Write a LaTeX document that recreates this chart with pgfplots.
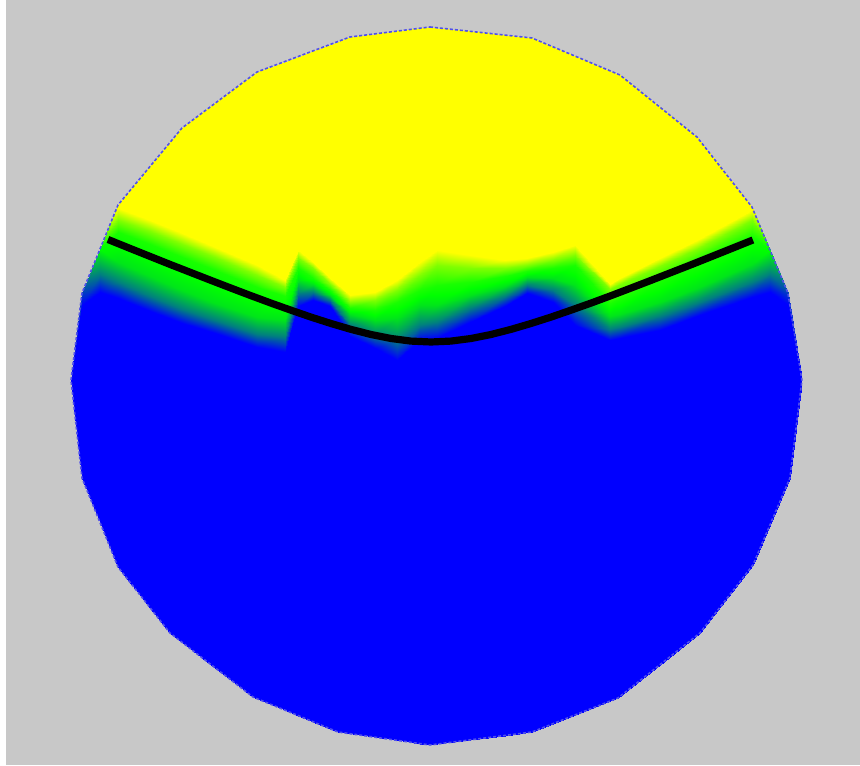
\documentclass[border=0pt]{standalone}
\usepackage{pgfplots}
\pgfplotsset{compat=1.18}
\usepackage{pgfplotstable}
\definecolor{bggray}{RGB}{200,200,200}
\definecolor{rimblue}{RGB}{80,80,235}
\pgfplotstableset{create on use/zz/.style={create col/set={0}}}

% colour field: one scanline (8 points) per column, from bottom edge to top edge
\pgfplotstableread{
x y c
71 380 0
71 380 0
71 380 0
71 380 0
71 380 0
71 380 0
71 380 0
71 380 0
82 478 0
82 305 0
82 293 0.12
82 293 0.12
82 293 0.12
82 293 0.12
82 293 0.12
82 293 0.12
100 522 0
100 292 0
100 274 0.25
100 249 0.5
100 249 0.5
100 249 0.5
100 249 0.5
100 249 0.5
118 567 0
118 298 0
118 282 0.25
118 262 0.45
118 232 0.55
118 220 0.75
118 208 1
118 205 1
150 608 0
150 311 0
150 296 0.25
150 276 0.45
150 244 0.55
150 231 0.75
150 220 1
150 166 1
170 633 0
182 323 0
182 309 0.25
182 290 0.45
182 257 0.55
182 244 0.75
182 233 1
182 128 1
215 668 0
215 333 0
215 320 0.25
215 303 0.45
215 270 0.55
215 257 0.75
215 247 1
215 103 1
253 697 0
257 347 0
257 334 0.25
257 317 0.45
257 287 0.55
257 275 0.75
257 265 1
257 72 1
285 710 0
285 352 0
285 337 0.25
285 320 0.45
285 296 0.55
285 287 0.75
285 280 1
285 62 1
298 716 0
298 306 0
298 293 0.25
298 280 0.45
298 268 0.55
298 258 0.75
298 250 1
298 57 1
313 722 0
313 300 0
313 292 0.25
313 284 0.45
313 278 0.55
313 268 0.75
313 262 1
313 51 1
330 729 0
330 306 0
330 300 0.25
330 295 0.45
330 290 0.55
330 284 0.75
330 278 1
330 45 1
338 732 0
350 336 0
350 325 0.25
350 314 0.45
350 308 0.55
350 302 0.75
350 295 1
350 37 1
375 737 0
375 348 0
375 335 0.25
375 320 0.45
375 310 0.55
375 300 0.75
375 292 1
375 34 1
397 740 0
397 360 0
397 340 0.25
397 318 0.45
397 302 0.55
397 290 0.75
397 280 1
397 31 1
420 744 0
420 340 0
420 325 0.25
420 305 0.45
420 290 0.55
420 275 0.75
420 262 1
420 28 1
437 744 0
437 338 0
437 322 0.25
437 305 0.45
437 285 0.55
437 265 0.75
437 250 1
437 28 1
470 740 0
470 322 0
470 308 0.25
470 295 0.45
470 282 0.55
470 268 0.75
470 255 1
470 31 1
505 736 0
505 306 0
505 296 0.25
505 286 0.45
505 276 0.55
505 268 0.75
505 260 1
505 35 1
532 732 0
527 293 0
527 285 0.25
527 277 0.45
527 271 0.55
527 265 0.75
527 258 1
532 38 1
553 724 0
553 302 0
553 290 0.25
553 278 0.45
553 268 0.55
553 260 0.75
553 252 1
553 47 1
575 715 0
575 325 0
575 305 0.25
575 285 0.45
575 265 0.55
575 255 0.75
575 245 1
575 56 1
610 701 0
610 340 0
610 329 0.25
610 316 0.45
610 303 0.55
610 289 0.75
610 284 1
610 71 1
618 698 0
620 338 0
620 327 0.25
620 314 0.45
620 298 0.55
620 284 0.75
620 278 1
620 75 1
660 665 0
660 330 0
660 316 0.25
660 302 0.45
660 280 0.55
660 266 0.75
660 258 1
660 107 1
700 633 0
697 316 0
697 303 0.25
697 288 0.45
697 262 0.55
697 249 0.75
697 240 1
697 137 1
753 565 0
752 297 0
752 282 0.25
752 264 0.45
752 236 0.55
752 220 0.75
752 210 1
752 207 1
770 525 0
770 292 0
770 274 0.25
770 250 0.5
770 250 0.5
770 250 0.5
770 250 0.5
770 250 0.5
790 478 0
788 305 0
788 293 0.12
788 293 0.12
788 293 0.12
788 293 0.12
788 293 0.12
788 293 0.12
802 380 0
802 380 0
802 380 0
802 380 0
802 380 0
802 380 0
802 380 0
802 380 0
}\fieldtable

% outline of the disk (polygon vertices)
\pgfplotstableread{
x y
430 27
532 38
620 75
697 137
752 207
788 293
802 380
790 478
753 565
700 633
618 698
532 732
430 745
338 732
253 697
170 633
118 567
82 478
71 380
82 293
118 205
182 128
257 72
350 37
430 27
}\rimtable

% black boundary curve
\pgfplotstableread{
x y
108 239.5
131 248.8
151 256.8
171 264.8
191 272.6
211 280.4
231 288.1
251 295.7
271 303.1
291 310.2
311 317.1
331 323.5
351 329.4
371 334.5
391 338.5
411 341.1
431 342
451 341.1
471 338.5
491 334.5
511 329.4
531 323.5
551 317.1
571 310.2
591 303.1
611 295.7
631 288.1
651 280.4
671 272.6
691 264.8
711 256.8
731 248.8
753 240
}\curvetable

\begin{document}
\begin{tikzpicture}
\fill[white] (0,0) rectangle (430pt,382.5pt);
\fill[bggray] (3pt,0) rectangle (430pt,382.5pt);
\begin{axis}[
  at={(0,0)}, anchor=origin,
  view={0}{90},
  hide axis,
  scale only axis,
  width=430pt, height=382.5pt,
  xmin=0, xmax=860, ymin=0, ymax=765, zmin=-1, zmax=1,
  clip=false,
  colormap={byg}{rgb255=(0,0,255) rgb255=(0,255,0) rgb255=(255,255,0)},
  point meta min=0, point meta max=1,
]
\addplot3[surf, shader=interp, point meta=explicit, mesh/cols=8]
  table[x=x, y expr=765-\thisrow{y}, z=zz, meta=c] {\fieldtable};
\addplot3[rimblue, line width=0.8pt, dash pattern=on 1.5pt off 1pt]
  table[x=x, y expr=765-\thisrow{y}, z=zz] {\rimtable};
\addplot3[black, line width=3.6pt, line cap=butt, line join=round]
  table[x=x, y expr=765-\thisrow{y}, z=zz] {\curvetable};
\end{axis}
\end{tikzpicture}
\end{document}
